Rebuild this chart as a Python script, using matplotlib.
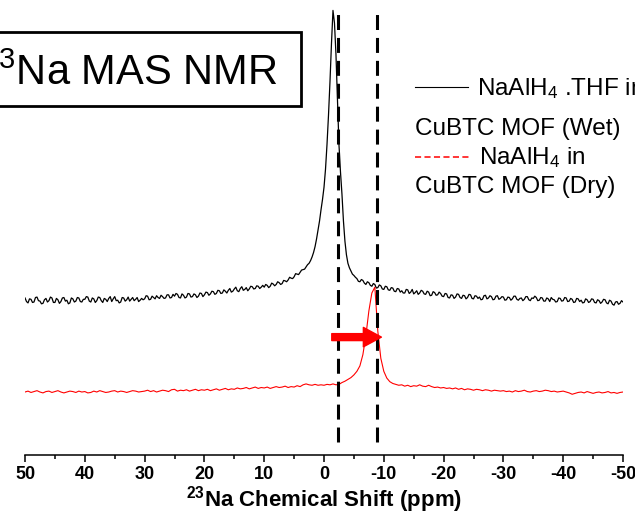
import numpy as np
import matplotlib
matplotlib.use("Agg")
import matplotlib.pyplot as plt
from matplotlib.lines import Line2D
from matplotlib.patches import Rectangle

plt.rcParams.update({
	"font.family": "Liberation Sans",
	"mathtext.fontset": "custom",
	"mathtext.rm": "Liberation Sans",
	"mathtext.it": "Liberation Sans",
	"mathtext.bf": "Liberation Sans:bold",
	"mathtext.default": "rm",
	"axes.unicode_minus": False,
})

# chemical shift grids (ppm)
shift_wet = np.arange(50, -50.1, -0.25)
shift_dry = np.arange(50, -50.25, -0.5)

# NaAlH4.THF in CuBTC MOF (wet), stacked on top
wet = [
	34.9, 34.1, 33.8, 34.7, 34.6, 33.9, 34.0, 35.0, 35.1, 34.3, 34.2, 33.6, 33.7, 34.5, 34.8, 34.0, 34.3, 35.1, 34.9, 33.9,
	33.9, 34.8, 34.5, 33.7, 34.1, 34.9, 35.0, 34.2, 34.4, 33.6, 33.8, 34.9, 34.7, 34.0, 34.2, 35.0, 34.9, 34.1, 34.0, 34.6,
	34.6, 35.2, 35.1, 34.2, 34.0, 34.9, 34.7, 33.9, 34.3, 35.1, 35.0, 34.3, 33.9, 34.8, 34.6, 34.1, 34.8, 35.2, 34.1, 34.7,
	35.2, 34.3, 34.4, 33.8, 34.0, 35.0, 34.9, 34.2, 34.5, 35.1, 34.2, 34.6, 35.0, 34.3, 34.6, 35.0, 34.1, 34.4, 34.8, 34.5,
	34.7, 35.4, 35.3, 34.5, 34.6, 35.3, 35.0, 34.7, 35.4, 35.0, 34.8, 35.5, 35.2, 34.8, 34.9, 35.6, 35.6, 34.9, 35.0, 35.7,
	35.3, 35.9, 35.7, 35.0, 34.9, 35.8, 35.5, 34.9, 35.1, 35.9, 35.8, 35.1, 35.2, 35.8, 35.6, 35.0, 35.3, 36.0, 35.9, 35.2,
	35.6, 36.2, 36.1, 35.5, 35.8, 36.4, 36.3, 35.7, 35.9, 36.6, 36.5, 35.9, 36.0, 36.7, 36.4, 36.0, 36.6, 37.0, 36.2, 36.4,
	36.9, 37.3, 36.5, 36.3, 37.0, 37.4, 36.6, 36.8, 37.2, 36.5, 36.9, 37.5, 37.4, 36.9, 37.0, 37.6, 37.5, 37.0, 37.3, 37.7,
	37.3, 37.9, 37.7, 37.2, 37.5, 38.2, 38.0, 37.6, 37.9, 38.5, 38.3, 37.9, 38.1, 38.8, 38.7, 38.5, 38.9, 39.5, 39.3, 39.2,
	39.6, 40.3, 40.2, 40.1, 40.6, 41.1, 41.2, 41.3, 41.8, 42.3, 42.6, 43.2, 44.0, 45.0, 46.3, 48.0, 50.0, 52.0, 54.5, 56.8,
	59.5, 63.5, 69.0, 75.5, 83.0, 91.5, 98.8, 96.0, 89.0, 79.0, 69.0, 63.0, 58.0, 52.0, 47.5, 44.5, 42.6, 41.6, 40.9, 40.2,
	39.9, 39.5, 39.2, 38.6, 38.5, 39.0, 38.8, 38.2, 37.9, 38.5, 38.3, 37.7, 37.5, 38.1, 37.9, 37.1, 37.2, 37.8, 37.6, 36.9,
	36.8, 37.5, 37.4, 36.7, 36.6, 37.2, 37.1, 36.4, 36.3, 37.0, 36.9, 36.2, 36.5, 36.0, 36.0, 36.8, 36.7, 35.9, 36.2, 36.8,
	35.8, 36.1, 36.5, 35.7, 36.0, 36.6, 36.4, 35.8, 35.7, 36.4, 36.2, 35.4, 35.5, 36.3, 36.1, 35.5, 35.6, 36.2, 35.9, 35.3,
	35.2, 35.9, 35.8, 35.0, 34.9, 35.6, 35.5, 34.8, 35.1, 35.8, 35.7, 35.0, 34.8, 35.5, 35.4, 34.7, 35.0, 35.7, 35.6, 34.8,
	34.7, 35.4, 35.3, 34.8, 35.1, 34.5, 34.6, 35.4, 35.5, 34.7, 34.9, 35.4, 35.2, 34.5, 34.6, 35.3, 35.4, 34.6, 34.8, 35.2,
	35.1, 34.4, 34.5, 35.1, 35.0, 34.4, 34.7, 35.3, 35.3, 34.6, 34.4, 34.8, 34.9, 34.3, 34.6, 35.2, 35.2, 34.5, 34.3, 34.9,
	34.8, 35.3, 35.0, 34.3, 34.4, 35.0, 34.9, 34.2, 34.2, 34.9, 34.7, 34.1, 35.0, 34.6, 34.5, 34.0, 34.1, 34.9, 34.8, 34.2,
	34.3, 35.0, 34.9, 34.1, 34.2, 34.8, 34.6, 33.9, 34.0, 34.8, 34.7, 34.1, 34.4, 33.8, 33.9, 34.7, 34.5, 33.9, 34.1, 34.7,
	34.6, 33.9, 33.8, 34.5, 34.3, 33.7, 34.0, 34.6, 34.5, 33.8, 33.6, 34.4, 34.2, 33.5, 33.3, 34.0, 34.1, 33.5, 33.7, 34.3, 34.0,
]

# NaAlH4 in CuBTC MOF (dry), lower trace
dry = [
	14.0, 14.2, 13.9, 14.1, 14.3, 14.0, 13.8, 14.1, 14.2, 13.9, 14.1, 14.3, 14.0, 13.8, 14.0, 14.2, 14.1, 13.9, 14.2, 14.0,
	14.1, 13.8, 13.9, 14.2, 14.0, 14.3, 14.1, 13.9, 14.0, 14.2, 14.3, 14.0, 14.2, 14.1, 13.9, 14.1, 14.3, 14.2, 14.0, 14.1,
	14.2, 14.4, 14.1, 14.3, 14.0, 14.2, 14.4, 14.3, 14.1, 14.5, 14.6, 14.2, 14.4, 14.3, 14.5, 14.2, 14.4, 14.6, 14.3, 14.5,
	14.4, 14.6, 14.3, 14.5, 14.7, 14.4, 14.6, 14.8, 14.5, 14.7, 14.6, 14.9, 14.7, 14.8, 15.0, 14.7, 14.9, 15.1, 14.8, 15.0,
	14.9, 15.1, 14.8, 15.0, 15.2, 15.0, 15.1, 15.3, 15.0, 15.2, 15.1, 15.4, 15.2, 15.6, 15.8, 15.6, 15.5, 15.7, 15.5, 15.6,
	15.5, 15.7, 15.6, 15.8, 15.6, 15.7, 16.1, 16.4, 16.8, 17.2, 17.8, 18.6, 19.8, 22.3, 26.5, 32.0, 36.0, 37.3, 27.5, 21.5,
	18.6, 17.1, 16.3, 15.9, 15.7, 15.5, 15.6, 15.3, 15.5, 15.2, 15.4, 15.3, 15.6, 15.3, 15.2, 15.5, 15.2, 15.0, 15.1, 14.9,
	15.0, 14.8, 14.9, 14.7, 14.9, 14.6, 14.8, 14.5, 14.7, 14.6, 14.4, 14.6, 14.5, 14.3, 14.5, 14.4, 14.2, 14.4, 14.3, 14.2,
	14.3, 14.1, 14.2, 14.0, 14.3, 14.1, 14.2, 14.4, 14.1, 14.0, 14.2, 14.3, 14.1, 14.2, 14.4, 14.3, 14.1, 14.2, 14.0, 14.1,
	14.2, 14.0, 13.8, 13.5, 13.7, 13.9, 14.0, 13.8, 14.1, 13.9, 13.7, 13.9, 14.0, 13.8, 13.9, 14.1, 13.8, 13.9, 13.7, 13.9, 14.0,
]

peak_marks = [-2.3, -8.8]   # dashed guide lines (ppm)
arrow_from, arrow_to, arrow_y = -1.3, -9.6, 26.2
ticks = [50, 40, 30, 20, 10, 0, -10, -20, -30, -40, -50]

fig = plt.figure(figsize=(6.35, 5.17), dpi=100)
ax = fig.add_axes([0.0394, 0.1199, 0.9417, 0.8704])

ax.plot(shift_wet, wet, color="black", lw=0.9)
ax.plot(shift_dry, dry, color="red", lw=0.8)

for p in peak_marks:
	ax.plot([p, p], [2.9, 98.4], color="black", lw=2.2, dashes=(4.9, 2.6))

ax.annotate("", xy=(arrow_to, arrow_y), xytext=(arrow_from, arrow_y),
	arrowprops=dict(facecolor="red", edgecolor="red", width=5, headwidth=14, headlength=13),
	zorder=5)

ax.set_xlim(50, -50)
ax.set_ylim(0, 100)
ax.set_xticks(ticks)
ax.set_xticks(np.arange(45, -50, -10), minor=True)
ax.set_yticks([])
for s in ["top", "left", "right"]:
	ax.spines[s].set_visible(False)
ax.spines["bottom"].set_linewidth(1.1)
ax.tick_params(axis="x", which="major", direction="out", length=5, width=1.1, pad=3, labelsize=13)
ax.tick_params(axis="x", which="minor", direction="out", length=3, width=1.1)
for lab in ax.get_xticklabels():
	lab.set_fontweight("bold")
ax.set_xlabel(r"$^{\mathbf{23}}$Na Chemical Shift (ppm)", fontsize=16, fontweight="bold", labelpad=1)

# title box, runs off the left edge
W, H = 635.0, 517.0
fig.patches.append(Rectangle((-10 / W, 1 - 106 / H), 311 / W, 74 / H, transform=fig.transFigure,
	fill=False, edgecolor="black", lw=2, figure=fig))
fig.text(277 / W, 1 - 85 / H, r"$^{23}$Na MAS NMR", fontsize=30, ha="right", va="baseline")

# hand made legend
fig.lines.append(Line2D([415 / W, 468 / W], [1 - 87 / H, 1 - 87 / H], transform=fig.transFigure,
	color="black", lw=0.8, figure=fig))
fig.lines.append(Line2D([415 / W, 470 / W], [1 - 157 / H, 1 - 157 / H], transform=fig.transFigure,
	color="red", lw=1.1, dashes=(4, 2.2), figure=fig))
fig.text(477 / W, 1 - 95 / H, r"NaAlH$_4$ .THF in", fontsize=17.5, va="baseline")
fig.text(415 / W, 1 - 135 / H, "CuBTC MOF (Wet)", fontsize=17.5, va="baseline")
fig.text(479 / W, 1 - 164 / H, r"NaAlH$_4$ in", fontsize=17.5, va="baseline")
fig.text(415 / W, 1 - 193 / H, "CuBTC MOF (Dry)", fontsize=17.5, va="baseline")

fig.savefig("out.png", dpi=100)
